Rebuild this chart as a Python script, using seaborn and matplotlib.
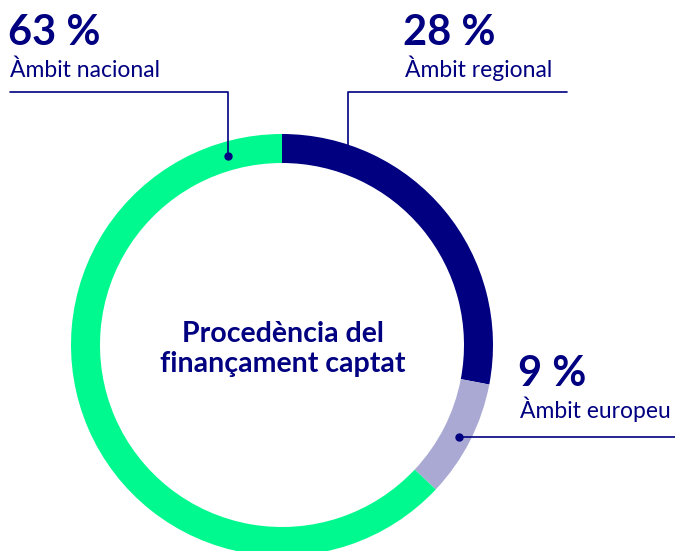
import matplotlib
matplotlib.use("Agg")
import matplotlib.pyplot as plt
import seaborn as sns
import numpy as np

# Data
labels = ["Àmbit regional", "Àmbit europeu", "Àmbit nacional"]
values = [28, 9, 63]
colors = ["#000080", "#a9a9d3", "#00f98e"]
title = "Procedència del\nfinançament captat"

sns.set_theme(style="white")
plt.rcParams["font.family"] = ["Lato", "DejaVu Sans"]

W, H = 675, 551
NAVY = "#000080"


def Y(y):
    # pixel row (top-down) -> data y
    return H - y


fig = plt.figure(figsize=(W / 100, H / 100), dpi=100)
ax = fig.add_axes([0, 0, 1, 1])

cx, cy = 282, Y(345)
r_out, ring = 211, 29
ax.pie(values, colors=colors, startangle=90, counterclock=False,
       center=(cx, cy), radius=r_out, frame=True,
       wedgeprops=dict(width=ring, linewidth=0))
ax.set_xlim(0, W)
ax.set_ylim(0, H)
ax.set_aspect("equal")
ax.axis("off")

ax.text(cx + 1, Y(349), title, ha="center", va="center", fontsize=20.5,
        fontweight="bold", color=NAVY, linespacing=1.15)

# angles of wedge boundaries
bounds = 90 - 360 * np.cumsum([0] + values) / 100
r_mid = r_out - ring / 2


def on_ring(angle, r):
    a = np.deg2rad(angle)
    return cx + r * np.cos(a), cy + r * np.sin(a)


lw = 1.2
# regional: line from outer edge up then right
xr, yr = on_ring(71.8, r_out)
ax.plot([xr, xr, 567], [yr, Y(92), Y(92)], color=NAVY, lw=lw)
# nacional: dot on ring, up then left
xn, yn = on_ring(106, r_mid)
ax.plot([xn, xn, 10], [yn, Y(92), Y(92)], color=NAVY, lw=lw)
ax.plot(xn, yn, "o", color=NAVY, ms=5)
# europeu: dot near wedge middle, line to right edge
xe, ye = on_ring((bounds[1] + bounds[2]) / 2 - 0.6, r_mid + 3)
ax.plot([xe, W], [ye, ye], color=NAVY, lw=lw)
ax.plot(xe, ye, "o", color=NAVY, ms=5)

label_pos = {
    "Àmbit nacional": (10, 45, 77),
    "Àmbit regional": (405, 45, 77),
    "Àmbit europeu": (520, 386, 418),
}
for lab, val in zip(labels, values):
    x, yb1, yb2 = label_pos[lab]
    ax.text(x - 2, Y(yb1), f"{val} %", fontsize=30, fontweight="bold",
            color=NAVY, ha="left", va="baseline")
    ax.text(x, Y(yb2), lab, fontsize=16.5, color=NAVY,
            ha="left", va="baseline")

fig.savefig("out.png", dpi=100)
